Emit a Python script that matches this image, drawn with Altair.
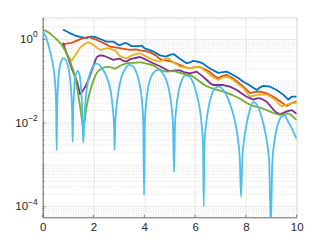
import altair as alt
import pandas as pd

# ---------------- data (values stored as log10) ----------------
blue_x = [0.80, 0.95, 1.07, 1.25, 1.47, 1.73, 1.90, 2.05, 2.26, 2.52, 2.78, 2.95, 3.04, 3.20, 3.31,
          3.50, 3.70, 3.90, 4.03, 4.20, 4.35, 4.62, 4.85, 5.01, 5.15, 5.40, 5.67, 5.80, 5.93, 6.10,
          6.26, 6.45, 6.65, 6.91, 7.10, 7.24, 7.50, 7.70, 7.90, 8.10, 8.23, 8.43, 8.55, 8.69, 8.95,
          9.21, 9.47, 9.67, 9.80, 10.00]
blue_log10 = [0.24, 0.19, 0.15, 0.10, 0.06, 0.03, 0.07, 0.06, 0.01, -0.05, -0.05, -0.12, -0.14, -0.09, -0.09,
              -0.16, -0.16, -0.15, -0.22, -0.25, -0.29, -0.38, -0.41, -0.37, -0.35, -0.46, -0.57, -0.55, -0.51, -0.53,
              -0.56, -0.64, -0.72, -0.80, -0.78, -0.77, -0.85, -0.92, -1.01, -1.08, -1.13, -1.21, -1.15, -1.11, -1.13,
              -1.21, -1.32, -1.44, -1.37, -1.37]

orange_x = [0.80, 0.95, 1.14, 1.30, 1.54, 1.80, 1.99, 2.13, 2.30, 2.45, 2.65, 2.85, 3.04, 3.25, 3.44,
            3.65, 3.83, 4.05, 4.22, 4.45, 4.62, 4.80, 5.01, 5.20, 5.40, 5.60, 5.80, 6.00, 6.19, 6.40,
            6.59, 6.75, 6.91, 7.05, 7.24, 7.40, 7.50, 7.70, 7.90, 8.05, 8.16, 8.35, 8.56, 8.82, 9.08,
            9.20, 9.34, 9.50, 9.61, 9.80, 10.00]
orange_log10 = [-0.12, -0.10, -0.08, -0.04, 0.02, 0.06, 0.02, -0.01, -0.06, -0.10, -0.17, -0.19, -0.21, -0.23, -0.25,
                -0.24, -0.26, -0.28, -0.31, -0.38, -0.47, -0.50, -0.52, -0.56, -0.61, -0.66, -0.69, -0.66, -0.66, -0.72,
                -0.78, -0.87, -0.93, -0.88, -0.85, -0.90, -0.93, -1.03, -1.13, -1.22, -1.28, -1.26, -1.25, -1.29, -1.37,
                -1.42, -1.48, -1.55, -1.59, -1.52, -1.48]

yellow_x = [0.80, 0.90, 1.00, 1.14, 1.28, 1.47, 1.62, 1.80, 1.99, 2.13, 2.26, 2.40, 2.52, 2.70, 2.85,
            3.04, 3.20, 3.31, 3.45, 3.57, 3.83, 4.09, 4.35, 4.50, 4.62, 4.80, 4.94, 5.15, 5.40, 5.60,
            5.80, 6.00, 6.19, 6.35, 6.52, 6.70, 6.91, 7.05, 7.24, 7.40, 7.50, 7.70, 7.90, 8.05, 8.16,
            8.35, 8.56, 8.82, 9.00, 9.15, 9.30, 9.41, 9.61, 9.80, 10.00]
yellow_log10 = [-0.17, -0.28, -0.40, -0.51, -0.38, -0.20, -0.12, -0.06, -0.13, -0.20, -0.25, -0.23, -0.21, -0.23, -0.26,
                -0.40, -0.44, -0.45, -0.40, -0.37, -0.33, -0.41, -0.49, -0.52, -0.53, -0.47, -0.45, -0.55, -0.65, -0.67,
                -0.69, -0.66, -0.65, -0.73, -0.81, -0.90, -0.97, -0.92, -0.89, -0.93, -0.97, -1.07, -1.16, -1.28, -1.37,
                -1.34, -1.32, -1.32, -1.38, -1.44, -1.54, -1.60, -1.56, -1.53, -1.51]

purple_x = [0.80, 0.94, 1.05, 1.14, 1.25, 1.34, 1.42, 1.47, 1.55, 1.67, 1.80, 1.93, 2.06, 2.13, 2.26,
            2.40, 2.52, 2.78, 2.90, 3.04, 3.20, 3.31, 3.45, 3.57, 3.83, 4.09, 4.35, 4.62, 4.85, 5.01,
            5.20, 5.40, 5.60, 5.80, 6.06, 6.25, 6.46, 6.60, 6.72, 6.90, 7.11, 7.37, 7.64, 7.85, 8.03,
            8.29, 8.45, 8.56, 8.70, 8.82, 9.00, 9.08, 9.20, 9.34, 9.50, 9.61, 9.80, 10.00]
purple_log10 = [-0.08, -0.33, -0.52, -0.69, -0.85, -0.99, -1.18, -1.31, -1.25, -1.14, -0.97, -0.75, -0.52, -0.42, -0.38,
                -0.39, -0.42, -0.49, -0.47, -0.46, -0.52, -0.53, -0.47, -0.45, -0.42, -0.49, -0.57, -0.64, -0.72, -0.76,
                -0.74, -0.74, -0.79, -0.81, -0.77, -0.86, -0.97, -1.05, -1.09, -1.09, -1.09, -1.13, -1.21, -1.30, -1.37,
                -1.44, -1.41, -1.41, -1.45, -1.49, -1.62, -1.68, -1.75, -1.79, -1.75, -1.72, -1.69, -1.78]

green_x = [0.00, 0.15, 0.35, 0.55, 0.75, 0.94, 1.05, 1.14, 1.27, 1.38, 1.47, 1.55, 1.60, 1.65, 1.73,
           1.86, 2.00, 2.13, 2.26, 2.45, 2.65, 2.85, 3.05, 3.31, 3.57, 3.83, 4.10, 4.35, 4.62, 4.88,
           5.14, 5.40, 5.67, 5.90, 6.06, 6.30, 6.46, 6.72, 6.95, 7.24, 7.50, 7.77, 8.03, 8.29, 8.56,
           8.82, 9.08, 9.30, 9.47, 9.65, 9.80, 10.00]
green_log10 = [0.23, 0.20, 0.11, 0.00, -0.13, -0.33, -0.47, -0.63, -0.88, -1.25, -1.60, -1.95, -2.12, -1.95, -1.60,
               -1.25, -0.98, -0.80, -0.72, -0.66, -0.66, -0.70, -0.63, -0.57, -0.56, -0.55, -0.58, -0.62, -0.72, -0.77,
               -0.76, -0.80, -0.84, -0.88, -0.95, -1.06, -1.12, -1.18, -1.22, -1.27, -1.34, -1.42, -1.52, -1.59, -1.63,
               -1.69, -1.76, -1.80, -1.81, -1.77, -1.82, -1.93]

lightblue_x = [0.00, 0.10, 0.20, 0.29, 0.38, 0.45, 0.50, 0.53, 0.55, 0.57, 0.60, 0.66, 0.73, 0.81, 0.90,
               0.98, 1.06, 1.12, 1.16, 1.18, 1.20, 1.24, 1.30, 1.38, 1.45, 1.52, 1.56, 1.58, 1.60, 1.62,
               1.66, 1.72, 1.82, 1.95, 2.10, 2.25, 2.40, 2.55, 2.68, 2.76, 2.81, 2.83, 2.85, 2.90, 2.98,
               3.10, 3.25, 3.42, 3.58, 3.72, 3.84, 3.92, 3.96, 3.99, 4.02, 4.07, 4.15, 4.28, 4.42, 4.56,
               4.72, 4.88, 5.00, 5.08, 5.13, 5.17, 5.21, 5.26, 5.35, 5.48, 5.62, 5.76, 5.92, 6.06, 6.18,
               6.26, 6.31, 6.34, 6.37, 6.43, 6.52, 6.65, 6.80, 6.95, 7.12, 7.30, 7.46, 7.60, 7.70, 7.76,
               7.81, 7.86, 7.92, 8.02, 8.15, 8.29, 8.42, 8.58, 8.72, 8.84, 8.92, 8.98, 9.04, 9.12, 9.25,
               9.40, 9.52, 9.65, 9.80, 9.92, 10.00]
lightblue_log10 = [0.19, 0.10, -0.08, -0.29, -0.52, -0.80, -1.15, -1.60, -2.65, -1.60, -1.10, -0.70, -0.52, -0.45, -0.48,
                   -0.60, -0.85, -1.25, -1.75, -2.45, -1.75, -1.20, -0.85, -0.75, -0.85, -1.25, -1.75, -2.20, -2.46, -2.20,
                   -1.70, -1.25, -0.90, -0.68, -0.58, -0.62, -0.75, -0.95, -1.25, -1.65, -2.10, -2.65, -2.10, -1.65, -1.25,
                   -0.90, -0.70, -0.61, -0.66, -0.85, -1.15, -1.55, -2.00, -3.73, -2.00, -1.55, -1.15, -0.88, -0.76, -0.73,
                   -0.80, -1.00, -1.30, -1.65, -2.05, -3.18, -2.05, -1.65, -1.25, -0.97, -0.86, -0.88, -1.03, -1.30, -1.65,
                   -2.05, -2.50, -3.99, -2.50, -2.05, -1.65, -1.33, -1.16, -1.13, -1.22, -1.42, -1.70, -2.05, -2.45, -2.85,
                   -3.77, -2.85, -2.45, -2.05, -1.70, -1.50, -1.55, -1.78, -2.10, -2.50, -2.95, -4.50, -2.95, -2.45, -2.05,
                   -1.85, -1.82, -1.95, -2.12, -2.28, -2.38]

x_ticks = [0, 2, 4, 6, 8, 10]
y_major = [1e-4, 1e-2, 1.0]
y_exponents = ["\u22124", "\u22122", "0"]

# ---------------- layout / style ----------------
W, H = 254, 200
Y_LO, Y_HI = 10 ** -4.255, 10 ** 0.53
INK = "#262626"
FONT = "Liberation Sans"
LABEL_SIZE = 11.5
EXP_SIZE = 8.5

y_minor = [m * 10.0 ** p for p in range(-5, 1) for m in range(1, 10)]
y_minor = [v for v in y_minor if Y_LO <= v <= Y_HI and v not in y_major]

xscale = alt.Scale(domain=[0, 10], nice=False, zero=False)
yscale = alt.Scale(type="log", domain=[Y_LO, Y_HI], nice=False)

xaxis = alt.Axis(values=x_ticks, grid=True, gridColor="#e2e2e2", gridWidth=0.8,
                 ticks=False, domain=True, domainColor=INK, domainWidth=0.6,
                 labelFont=FONT, labelFontSize=LABEL_SIZE, labelColor=INK, labelPadding=4,
                 labelFlush=False, title=None)
yaxis = alt.Axis(values=y_major, grid=False, ticks=False, domain=True, domainColor=INK,
                 domainWidth=0.6, labels=False, title=None)


def X(field):
    return alt.X(f"{field}:Q", scale=xscale, axis=xaxis)


def Y(field):
    return alt.Y(f"{field}:Q", scale=yscale, axis=yaxis)


def series(xs, logs):
    return pd.DataFrame({"x": xs, "y": [10.0 ** v for v in logs]})


layers = []

# minor (dotted) and major horizontal grid lines
layers.append(alt.Chart(pd.DataFrame({"v": y_minor})).mark_rule(
    color="#cdcdcd", strokeDash=[1, 1.5], strokeWidth=0.6).encode(y=Y("v")))
layers.append(alt.Chart(pd.DataFrame({"v": y_major})).mark_rule(
    color="#e2e2e2", strokeWidth=0.8).encode(y=Y("v")))

# inward ticks
layers.append(alt.Chart(pd.DataFrame({"v": x_ticks})).mark_rule(color=INK, strokeWidth=0.6).encode(
    x=X("v"), y=alt.value(H), y2=alt.value(H - 2.5)))
layers.append(alt.Chart(pd.DataFrame({"v": y_major})).mark_rule(color=INK, strokeWidth=0.6).encode(
    y=Y("v"), x=alt.value(0), x2=alt.value(2.5)))
layers.append(alt.Chart(pd.DataFrame({"v": y_minor})).mark_rule(color=INK, strokeWidth=0.5).encode(
    y=Y("v"), x=alt.value(0), x2=alt.value(1.5)))

# y tick labels: "10" with a raised exponent, right-aligned as a whole
lab = pd.DataFrame({"v": y_major, "exp": y_exponents})
exp_right = -5.0
layers.append(alt.Chart(lab).mark_text(
    font=FONT, fontSize=EXP_SIZE, color=INK, align="right", baseline="middle", dy=-5
).encode(y=Y("v"), x=alt.value(exp_right), text="exp:N"))
layers.append(alt.Chart(lab).transform_calculate(
    px=f"{exp_right} - (length(datum.exp) > 1 ? 9.6 : 4.9)"
).mark_text(
    font=FONT, fontSize=LABEL_SIZE, color=INK, align="right", baseline="middle", dy=0.5
).encode(y=Y("v"), x=alt.X("px:Q", scale=None), text=alt.value("10")))

for xs, logs, col, interp in [
    (blue_x, blue_log10, "#0072BD", "linear"),
    (orange_x, orange_log10, "#D95319", "linear"),
    (yellow_x, yellow_log10, "#EDB120", "linear"),
    (purple_x, purple_log10, "#7E2F8E", "linear"),
    (green_x, green_log10, "#77AC30", "monotone"),
    (lightblue_x, lightblue_log10, "#4DBEEE", "monotone"),
]:
    layers.append(alt.Chart(series(xs, logs)).mark_line(
        color=col, strokeWidth=1.8, clip=True, interpolate=interp, strokeJoin="round"
    ).encode(x=X("x"), y=Y("y")))

chart = alt.layer(*layers).properties(
    width=W, height=H,
    autosize=alt.AutoSizeParams(type="none"),
    padding={"left": 34.7, "top": 9.3, "right": 20, "bottom": 19},
).configure_view(stroke=None).configure(background="white")

chart.save("out.html", embed_options={"renderer": "svg", "actions": False})
